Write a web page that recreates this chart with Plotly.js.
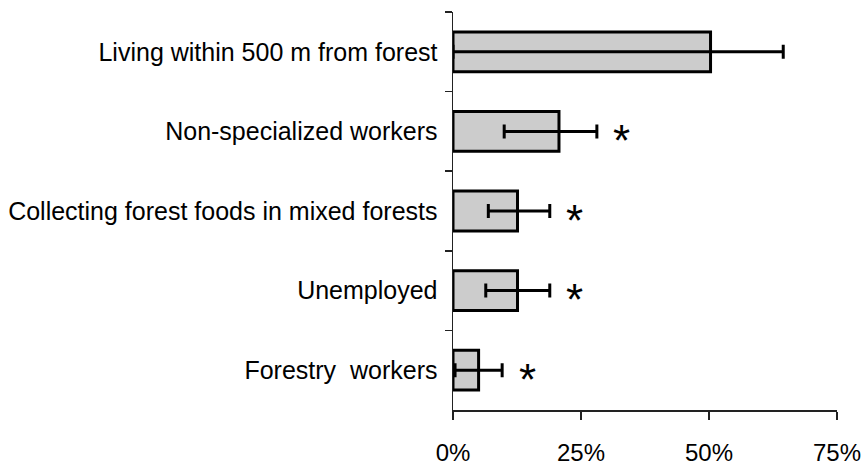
<!DOCTYPE html>
<html>
<head>
<meta charset="utf-8">
<script src="https://cdn.plot.ly/plotly-3.0.1.min.js"></script>
<style>html,body{margin:0;padding:0;background:#fff;}#chart{width:861px;height:465px;}</style>
</head>
<body>
<div id="chart"></div>
<script>
const categories = [
  "Living within 500 m from forest",
  "Non-specialized workers",
  "Collecting forest foods in mixed forests",
  "Unemployed",
  "Forestry  workers"
];
const values = [50.3, 20.7, 12.6, 12.6, 5.0];
const lowerCI = [0, 10.0, 6.9, 6.4, 0.4];
const upperCI = [64.5, 28.1, 18.9, 18.9, 9.6];
const significant = ["", "*", "*", "*", "*"];
const tickVals = [0, 25, 50, 75];
const tickText = ["0%", "25%", "50%", "75%"];

const plus = upperCI.map((u, i) => u - values[i]);
const minus = lowerCI.map((l, i) => values[i] - l);

const trace = {
  type: "bar",
  orientation: "h",
  y: categories,
  x: values,
  marker: {color: "#cccccc", line: {color: "#000", width: 3}},
  error_x: {type: "data", symmetric: false, array: plus, arrayminus: minus,
            color: "#000", thickness: 3, width: 7},
  hoverinfo: "none"
};

const annotations = categories.map((c, i) => ({
  x: upperCI[i], y: c, xref: "x", yref: "y",
  text: significant[i], showarrow: false,
  xanchor: "center", yanchor: "middle", xshift: 25, yshift: -9,
  font: {family: "Liberation Sans, Arial, sans-serif", size: 44, color: "#000"}
})).filter(a => a.text);

const layout = {
  width: 861, height: 465,
  margin: {l: 453, r: 23.5, t: 12, b: 55, pad: 0},
  paper_bgcolor: "#fff", plot_bgcolor: "#fff",
  font: {family: "Liberation Sans, Arial, sans-serif", color: "#000"},
  showlegend: false,
  bargap: 0.5,
  xaxis: {
    range: [0, 75], tickvals: tickVals, ticktext: tickText,
    showgrid: false, zeroline: false, showline: true, linecolor: "#222", linewidth: 2,
    ticks: "outside", ticklen: 8, tickwidth: 2, tickcolor: "#222",
    tickfont: {size: 24}, ticklabelstandoff: 12, ticklabeloverflow: "allow", fixedrange: true
  },
  yaxis: {
    type: "category", range: [4.5, -0.5],
    showgrid: false, zeroline: false, showline: true, linecolor: "#222", linewidth: 1.5,
    ticks: "outside", tickson: "boundaries", ticklen: 7, tickwidth: 1.5, tickcolor: "#222",
    tickfont: {size: 25}, ticklabelstandoff: 9, fixedrange: true
  },
  annotations: annotations
};

Plotly.newPlot("chart", [trace], layout, {displayModeBar: false, staticPlot: true});
</script>
</body>
</html>
